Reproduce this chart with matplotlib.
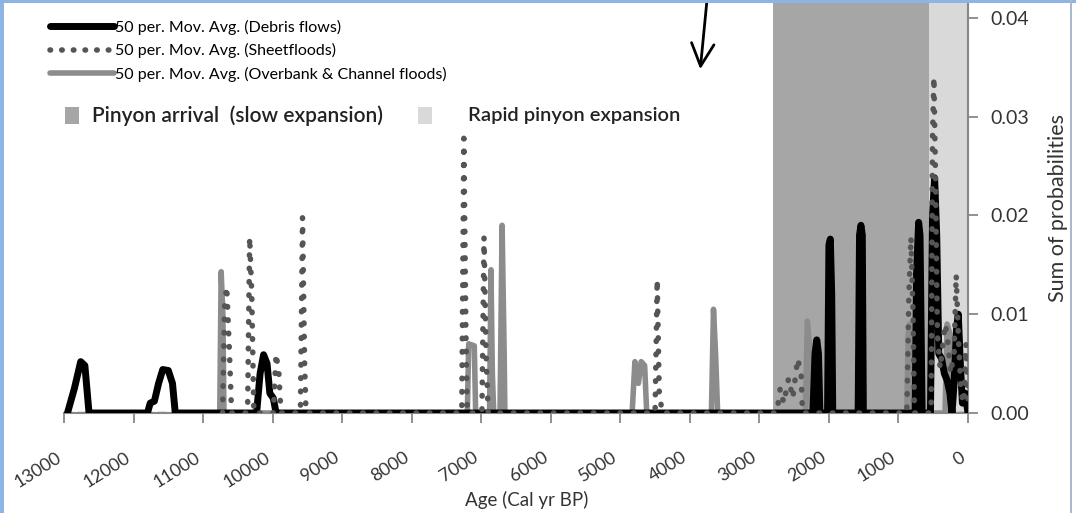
import matplotlib
matplotlib.use("Agg")
import matplotlib.pyplot as plt
from matplotlib.lines import Line2D
from matplotlib.patches import Rectangle

plt.rcParams['font.family'] = ['Lato', 'DejaVu Sans']

# ---- data ----
# 50 per. moving average, debris flows
debris_age = [12950, 12850, 12760, 12700, 12640,
              11800, 11760, 11700, 11640, 11580, 11500, 11440, 11400,
              10230, 10180, 10130, 10080, 10040, 9990, 9950,
              2230, 2200, 2175, 2150, 2130,
              2020, 2000, 1980, 1960, 1945,
              1580, 1560, 1540, 1520, 1505,
              760, 740, 710, 690, 660,
              540, 510, 480, 450, 420, 380, 340, 300, 260, 230, 200, 165, 140, 110, 80, 40, 0]
debris_val = [0, 0.0025, 0.0052, 0.0048, 0,
              0, 0.001, 0.0012, 0.003, 0.0044, 0.0043, 0.003, 0,
              0, 0.004, 0.0059, 0.005, 0.002, 0.0015, 0,
              0, 0.006, 0.0074, 0.006, 0,
              0, 0.017, 0.0176, 0.012, 0,
              0, 0.018, 0.019, 0.018, 0,
              0, 0.014, 0.0193, 0.018, 0,
              0, 0.020, 0.0238, 0.018, 0.006, 0.0055, 0.004, 0.0033, 0.002, 0, 0.003, 0.0085, 0.010, 0.005, 0.001, 0.002, 0]

# 50 per. moving average, sheetfloods
sheet_age = [10720, 10690, 10660, 10620, 10590,
             10360, 10330, 10300, 10270,
             9990, 9950, 9910, 9880,
             9600, 9570, 9540, 9520,
             7280, 7250, 7220, 7200,
             6990, 6960, 6930, 6900,
             4500, 4470, 4440, 4420, 4400,
             2750, 2700, 2650, 2580, 2520, 2450, 2400, 2380,
             880, 850, 820, 790, 770,
             530, 510, 490, 470, 440, 400, 330, 300, 250, 200, 170, 140, 100, 60, 30, 0]
sheet_val = [0, 0.011, 0.0128, 0.006, 0,
             0, 0.0178, 0.012, 0,
             0, 0.006, 0.004, 0,
             0, 0.0198, 0.005, 0,
             0, 0.0278, 0.008, 0,
             0, 0.0178, 0.006, 0,
             0, 0.0135, 0.002, 0.0012, 0,
             0, 0.0025, 0.001, 0.0035, 0.0015, 0.0055, 0.004, 0,
             0, 0.012, 0.0178, 0.010, 0,
             0, 0.028, 0.034, 0.025, 0.008, 0.0045, 0.009, 0.008, 0.004, 0.006, 0.014, 0.008, 0.002, 0.001, 0.007, 0.001]

# 50 per. moving average, overbank & channel floods
flood_age = [10760, 10740, 10715, 10700,
             7200, 7180, 7100, 7080,
             6880, 6860, 6840, 6820,
             6730, 6700, 6670, 6660,
             4830, 4790, 4740, 4700, 4650, 4620,
             3690, 3660, 3630, 3600,
             2340, 2310, 2270, 2250,
             880, 860, 840, 810, 790,
             330, 300, 260, 230]
flood_val = [0, 0.0143, 0.010, 0,
             0, 0.007, 0.0068, 0,
             0, 0.0145, 0.004, 0,
             0, 0.019, 0.006, 0,
             0, 0.0052, 0.003, 0.0052, 0.0048, 0,
             0, 0.0105, 0.006, 0,
             0, 0.0093, 0.006, 0,
             0, 0.008, 0.009, 0.004, 0,
             0, 0.009, 0.008, 0]

pinyon_arrival = (2800, 560)
pinyon_rapid = (560, 0)

x_ticks = list(range(13000, -1, -1000))
y_ticks = [0.00, 0.01, 0.02, 0.03, 0.04]

W, H = 1076, 513

# ---- figure ----
fig = plt.figure(figsize=(W / 100, H / 100), dpi=100)
ax = fig.add_axes([64 / W, 100 / H, (968 - 64) / W, 410 / H])

ax.axvspan(*pinyon_arrival, color='#a6a6a6', lw=0, zorder=0)
ax.axvspan(*pinyon_rapid, color='#d9d9d9', lw=0, zorder=0)

ax.plot([13000, 0], [0, 0], color='#222222', lw=1.6, ls=(0, (4, 2)), zorder=1)

ax.plot(flood_age, flood_val, color='#8c8c8c', lw=4, solid_joinstyle='round', zorder=2)
ax.plot(debris_age, debris_val, color='black', lw=5, solid_joinstyle='round', zorder=3)
ax.plot(sheet_age, sheet_val, color='#555555', lw=4, ls=(0, (0.1, 2.3)),
        dash_capstyle='round', zorder=4)

ax.set_xlim(13000, 0)
ax.set_ylim(0, 0.0415)
ax.set_xticks(x_ticks)
ax.set_xticklabels([str(t) for t in x_ticks], rotation=32, ha='right', va='top',
                   fontsize=13, color='#333333')
ax.set_yticks(y_ticks)
ax.set_yticklabels(['%.2f' % t for t in y_ticks], fontsize=14, color='#333333')
ax.yaxis.tick_right()
ax.yaxis.set_label_position('right')
ax.tick_params(axis='x', length=7, width=1.3, color='#888888', pad=19)
ax.tick_params(axis='y', length=7, width=1.3, color='#888888', pad=9)

for s in ['top', 'left']:
    ax.spines[s].set_visible(False)
for s in ['bottom', 'right']:
    ax.spines[s].set_color('#888888')
    ax.spines[s].set_linewidth(1.5)

fig.text(527 / W, 1 - 500 / H, 'Age (Cal yr BP)', fontsize=13.5, color='#333333',
         ha='center', va='center')
ax.set_ylabel('Sum of probabilities', fontsize=15.5, color='#333333', labelpad=14)

# legend for the three moving averages
line_handles = [
    Line2D([], [], color='black', lw=5, solid_capstyle='round'),
    Line2D([], [], color='#555555', lw=4, ls=(0, (0.1, 2.0)), dash_capstyle='round'),
    Line2D([], [], color='#8c8c8c', lw=4, solid_capstyle='round'),
]
line_labels = ['50 per. Mov. Avg. (Debris flows)',
               '50 per. Mov. Avg. (Sheetfloods)',
               '50 per. Mov. Avg. (Overbank & Channel floods)']
fig.legend(line_handles, line_labels, loc='upper left',
           bbox_to_anchor=(50 / W, 1 - 20 / H), frameon=False,
           fontsize=11.5, handlelength=4.0, handletextpad=0.1,
           labelspacing=0.52, borderaxespad=0, borderpad=0)

# pinyon shading keys
fig.add_artist(Rectangle((65 / W, 1 - 124 / H), 14 / W, 17 / H, transform=fig.transFigure,
                         color='#a6a6a6', lw=0))
fig.text(92 / W, 1 - 116 / H, 'Pinyon arrival  (slow expansion)', fontsize=15,
         weight='semibold', color='#222222', va='center', ha='left')
fig.add_artist(Rectangle((418 / W, 1 - 124 / H), 14 / W, 17 / H, transform=fig.transFigure,
                         color='#d9d9d9', lw=0))
fig.text(468 / W, 1 - 116 / H, 'Rapid pinyon expansion', fontsize=14.5,
         weight='semibold', color='#222222', va='center', ha='left')

# arrow from top
ax.annotate('', xy=(700 / W, 1 - 72 / H), xycoords='figure fraction',
            xytext=(707 / W, 1.0), textcoords='figure fraction',
            arrowprops=dict(arrowstyle='->,head_length=0.9,head_width=0.45',
                            color='black', lw=2, mutation_scale=18))

# blue frame around the picture
fig.add_artist(Rectangle((0, 0), 4 / W, 1, transform=fig.transFigure,
                         color='#8eb4e3', lw=0))
fig.add_artist(Rectangle((0, 1 - 3 / H), 1, 3 / H, transform=fig.transFigure,
                         color='#8eb4e3', lw=0))
fig.add_artist(Rectangle((1070 / W, 0), 1.5 / W, 1, transform=fig.transFigure,
                         color='#a9b8cc', lw=0))

fig.savefig('out.png', dpi=100)
